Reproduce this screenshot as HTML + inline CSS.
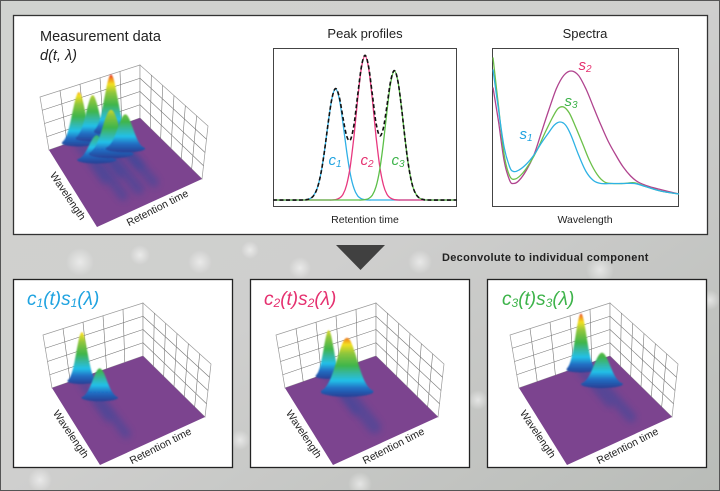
<!DOCTYPE html>
<html><head><meta charset="utf-8"><style>
html,body{margin:0;padding:0;width:720px;height:491px;overflow:hidden;background:#c9cbc8}
svg{display:block}
text{font-family:"Liberation Sans","DejaVu Sans",sans-serif}
</style></head><body>
<svg id="svg" width="720" height="491" viewBox="0 0 720 491" xmlns="http://www.w3.org/2000/svg">
<defs>
<linearGradient id="bgGrad" x1="0" y1="0" x2="1" y2="1">
<stop offset="0" stop-color="#d0d2cf"/><stop offset="0.5" stop-color="#cfcfce"/><stop offset="1" stop-color="#b9bcb8"/>
</linearGradient>
<radialGradient id="bokeh"><stop offset="0" stop-color="#ffffff" stop-opacity="0.55"/><stop offset="1" stop-color="#ffffff" stop-opacity="0"/></radialGradient>
<filter id="blur" x="-50%" y="-50%" width="200%" height="200%"><feGaussianBlur stdDeviation="3.5"/></filter>
<filter id="blur2" x="-50%" y="-50%" width="200%" height="200%"><feGaussianBlur stdDeviation="0.8"/></filter>
</defs>
<rect x="0" y="0" width="720" height="491" fill="url(#bgGrad)"/>
<g id="bokehs">
<circle cx="80" cy="262" r="14" fill="url(#bokeh)"/><circle cx="140" cy="255" r="10" fill="url(#bokeh)"/>
<circle cx="200" cy="262" r="12" fill="url(#bokeh)"/><circle cx="250" cy="250" r="9" fill="url(#bokeh)"/>
<circle cx="300" cy="268" r="11" fill="url(#bokeh)"/><circle cx="420" cy="262" r="12" fill="url(#bokeh)"/>
<circle cx="600" cy="270" r="14" fill="url(#bokeh)"/><circle cx="40" cy="480" r="12" fill="url(#bokeh)"/>
<circle cx="240" cy="440" r="10" fill="url(#bokeh)"/><circle cx="478" cy="400" r="10" fill="url(#bokeh)"/>
<circle cx="710" cy="300" r="10" fill="url(#bokeh)"/><circle cx="360" cy="484" r="12" fill="url(#bokeh)"/>
</g>
<rect x="0.5" y="0.5" width="719" height="490" fill="none" stroke="#555" stroke-width="1"/>

<rect x="13.5" y="15.5" width="694" height="219" fill="#fff" stroke="#333" stroke-width="1.3"/>
<text x="40" y="41" font-size="14.5" fill="#222">Measurement data</text>
<text x="40" y="60" font-size="14.5" font-style="italic" fill="#222">d(t, λ)</text>

<text x="365" y="38" font-size="13" text-anchor="middle" fill="#222">Peak profiles</text>
<rect x="273.5" y="48.5" width="183" height="158" fill="#fff" stroke="#444" stroke-width="1"/>
<text x="365" y="223" font-size="10.5" text-anchor="middle" fill="#222">Retention time</text>
<g id="peakChart"></g>

<text x="585" y="38" font-size="13" text-anchor="middle" fill="#222">Spectra</text>
<rect x="492.5" y="48.5" width="186" height="158" fill="#fff" stroke="#444" stroke-width="1"/>
<text x="585" y="223" font-size="10.5" text-anchor="middle" fill="#222">Wavelength</text>
<g id="specChart"></g>

<polygon points="336,245 385,245 360.5,270" fill="#404040"/>
<text x="442" y="261" font-size="11" font-weight="bold" fill="#222" letter-spacing="0.3">Deconvolute to individual component</text>

<rect x="13.5" y="279.5" width="219" height="188" fill="#fff" stroke="#222" stroke-width="1.3"/>
<rect x="250.5" y="279.5" width="219" height="188" fill="#fff" stroke="#222" stroke-width="1.3"/>
<rect x="487.5" y="279.5" width="219" height="188" fill="#fff" stroke="#222" stroke-width="1.3"/>
<text x="27" y="305" font-size="19" font-style="italic" fill="#1fa3e0">c<tspan font-size="12" dy="2">1</tspan><tspan dy="-2">(t)s</tspan><tspan font-size="12" dy="2">1</tspan><tspan dy="-2">(λ)</tspan></text>
<text x="264" y="305" font-size="19" font-style="italic" fill="#e5306f">c<tspan font-size="12" dy="2">2</tspan><tspan dy="-2">(t)s</tspan><tspan font-size="12" dy="2">2</tspan><tspan dy="-2">(λ)</tspan></text>
<text x="502" y="305" font-size="19" font-style="italic" fill="#3db34a">c<tspan font-size="12" dy="2">3</tspan><tspan dy="-2">(t)s</tspan><tspan font-size="12" dy="2">3</tspan><tspan dy="-2">(λ)</tspan></text>
<g id="surfaces"></g>
</svg>
<script>
// ---- Peak profiles data (retention time 0..100, relative intensity 0..1)
const peakT = [0,16,18,20,22,24,26,28,30,32,34,36,38,40,42,44,46,48,50,52,54,56,58,60,62,64,66,68,70,72,74,76,78,80,82,84,100];
const c1Vals = [0,0,.002,.009,.028,.077,.174,.328,.515,.676,.74,.676,.515,.328,.174,.077,.028,.009,.002,0,0,0,0,0,0,0,0,0,0,0,0,0,0,0,0,0,0];
const c2Vals = [0,0,0,0,0,0,0,0,0,0,.003,.012,.036,.10,.226,.425,.668,.876,.96,.876,.668,.425,.226,.10,.036,.012,.003,0,0,0,0,0,0,0,0,0,0];
const c3Vals = [0,0,0,0,0,0,0,0,0,0,0,0,0,0,0,0,0,0,.003,.010,.033,.089,.202,.381,.599,.785,.86,.785,.599,.381,.202,.089,.033,.010,.003,0,0];
// ---- Spectra data (wavelength 0..100, relative absorbance)
const s1W = [0,3,6,9,11,14,18,22,26,30,33,36,39,42,46,50,54,58,64,70,76,82,90,100];
const s1Vals = [.87,.6,.35,.22,.19,.2,.24,.3,.38,.45,.5,.52,.5,.43,.3,.19,.13,.11,.11,.11,.11,.09,.06,.04];
const s2W = [0,3,6,9,11,14,18,22,26,30,34,38,42,46,50,54,58,62,66,70,74,78,84,90,100];
const s2Vals = [.75,.52,.26,.13,.11,.13,.2,.3,.45,.6,.74,.83,.86,.83,.74,.62,.5,.39,.3,.22,.16,.12,.09,.07,.04];
const s3W = [0,3,6,9,12,16,20,24,28,32,35,38,41,44,48,52,56,60,64,70,76,82,90,100];
const s3Vals = [.95,.62,.3,.16,.14,.18,.25,.34,.45,.55,.61,.62,.58,.5,.38,.26,.17,.12,.11,.11,.115,.09,.06,.04];
// ---- 3D surface peak data: t (retention 0..1), w (wavelength 0..1), height (px), width
const measT = [0.3,0.45,0.65,0.35,0.5,0.65];
const measW = [0.05,0.05,0.05,0.3,0.3,0.3];
const measH = [52,44,58,25,45,35];
const measS = [6.5,6.5,6.5,7.5,8.5,7.5];
const comp1T = [0.3,0.35], comp1W = [0.05,0.3], comp1H = [50,30], comp1S = [5.5,7];
const comp2T = [0.45,0.5], comp2W = [0.05,0.3], comp2H = [47,55], comp2S = [5,10];
const comp3T = [0.65,0.72], comp3W = [0.05,0.3], comp3H = [57,32], comp3S = [5.5,8];

const NS = 'http://www.w3.org/2000/svg';
function mk(tag, attrs, parent){const e=document.createElementNS(NS,tag);for(const k in attrs)e.setAttribute(k,attrs[k]);parent.appendChild(e);return e;}
function smooth(pts){let d='M'+pts[0][0].toFixed(1)+','+pts[0][1].toFixed(1);
 for(let i=0;i<pts.length-1;i++){const p0=pts[Math.max(i-1,0)],p1=pts[i],p2=pts[i+1],p3=pts[Math.min(i+2,pts.length-1)];
 const c1x=p1[0]+(p2[0]-p0[0])/6,c1y=p1[1]+(p2[1]-p0[1])/6,c2x=p2[0]-(p3[0]-p1[0])/6,c2y=p2[1]-(p3[1]-p1[1])/6;
 d+=' C'+c1x.toFixed(1)+','+c1y.toFixed(1)+' '+c2x.toFixed(1)+','+c2y.toFixed(1)+' '+p2[0].toFixed(1)+','+p2[1].toFixed(1);}return d;}

// Peak profiles chart
const pk=document.getElementById('peakChart');
const px=t=>273+t/100*184, py=v=>200-v*150;
const pkSeries=[[c1Vals,'#2fb0e6','curve-c1'],[c2Vals,'#e8387f','curve-c2'],[c3Vals,'#5cbf48','curve-c3']];
pkSeries.forEach(s=>{
 const p=mk('path',{d:smooth(peakT.map((t,i)=>[px(t),py(s[0][i])])),fill:'none',stroke:s[1],'stroke-width':1.3},pk);
 
 
});
const sumP=mk('path',{d:smooth(peakT.map((t,i)=>[px(t),py(c1Vals[i]+c2Vals[i]+c3Vals[i])])),fill:'none',stroke:'#111','stroke-width':1.6,'stroke-dasharray':'4,2.5'},pk);


const pkLabels=[['c','1',335,'#1fa3e0'],['c','2',367,'#e5306f'],['c','3',398,'#3db34a']];
pkLabels.forEach((l,i)=>{const t=mk('text',{x:l[2],y:165,'font-size':15,'font-style':'italic',fill:l[3],'text-anchor':'middle'},pk);
 t.textContent=l[0];const s=mk('tspan',{'font-size':10,dy:2},t);s.textContent=l[1];
 
 });

// Spectra chart
const sp=document.getElementById('specChart');
const sx=w=>493+w/100*186, sy=v=>200-v*150;
const spSeries=[[s2W,s2Vals,'#b0438e','curve-s2'],[s3W,s3Vals,'#6cc04a','curve-s3'],[s1W,s1Vals,'#2eb2e4','curve-s1']];
spSeries.forEach(s=>{
 const p=mk('path',{d:smooth(s[0].map((w,i)=>[sx(w),sy(s[1][i])])),fill:'none',stroke:s[2],'stroke-width':1.3},sp);
 
 
});
const spLabels=[['s','2',585,70,'#e5306f'],['s','3',571,106,'#3db34a'],['s','1',526,139,'#1fa3e0']];
spLabels.forEach(l=>{const t=mk('text',{x:l[2],y:l[3],'font-size':15,'font-style':'italic',fill:l[4],'text-anchor':'middle'},sp);
 t.textContent=l[0];const s=mk('tspan',{'font-size':10,dy:2},t);s.textContent=l[1];
 
 });

// 3D surfaces
const surf=document.getElementById('surfaces');
const defs=document.querySelector('defs');
let gid=0;
function surface(name,ox,oy,Tarr,Warr,Harr,Sarr){
 const g=mk('g',{},surf);
 
 
 const L=[52+ox,388+oy],F=[100+ox,465+oy],R=[205+ox,417+oy],B=[143+ox,356+oy];
 const Hw=53, Hmax=58;
 const P=(t,w)=>[L[0]*(1-t)*(1-w)+F[0]*(1-t)*w+R[0]*t*w+B[0]*t*(1-w), L[1]*(1-t)*(1-w)+F[1]*(1-t)*w+R[1]*t*w+B[1]*t*(1-w)];
 const wallL=mk('polygon',{points:[L,B,[B[0],B[1]-Hw],[L[0]-9,L[1]-Hw]].map(p=>p.join(',')).join(' '),fill:'#fff',stroke:'#999','stroke-width':0.7},g);
 
 
 const wallR=mk('polygon',{points:[B,R,[R[0]+6,R[1]-Hw],[B[0],B[1]-Hw]].map(p=>p.join(',')).join(' '),fill:'#fff',stroke:'#999','stroke-width':0.7},g);
 
 
 const lerp=(a,b,f)=>[a[0]+(b[0]-a[0])*f,a[1]+(b[1]-a[1])*f];
 const Lt=[L[0]-9,L[1]-Hw],Bt=[B[0],B[1]-Hw],Rt=[R[0]+6,R[1]-Hw];
 for(let i=1;i<5;i++){const a=lerp(L,B,i/5),b=lerp(Lt,Bt,i/5);mk('line',{x1:a[0],y1:a[1],x2:b[0],y2:b[1],stroke:'#777','stroke-width':0.6},g);}
 for(let i=1;i<4;i++){const a=lerp(L,Lt,i/4),b=lerp(B,Bt,i/4),c=lerp(R,Rt,i/4);
  mk('line',{x1:a[0],y1:a[1],x2:b[0],y2:b[1],stroke:'#777','stroke-width':0.6},g);
  mk('line',{x1:b[0],y1:b[1],x2:c[0],y2:c[1],stroke:'#777','stroke-width':0.6},g);}
 for(let i=1;i<6;i++){const a=lerp(B,R,i/6),b=lerp(Bt,Rt,i/6);mk('line',{x1:a[0],y1:a[1],x2:b[0],y2:b[1],stroke:'#777','stroke-width':0.6},g);}
 const floor=mk('polygon',{points:[L,F,R,B].map(p=>p.join(',')).join(' '),fill:'#7c448f'},g);
 
 
 Tarr.forEach((t,i)=>{const a=P(t,Warr[i]),b=P(t,Math.min(Warr[i]+0.5,0.9));
  const s=mk('line',{x1:a[0],y1:a[1],x2:b[0],y2:b[1],stroke:'#2d4a9e','stroke-width':Sarr[i]*1.3,'stroke-linecap':'round',opacity:0.45,filter:'url(#blur)'},g);
  
  });
 const order=Tarr.map((t,i)=>i).sort((a,b)=>Warr[a]-Warr[b]);
 order.forEach(i=>{
  const base=P(Tarr[i],Warr[i]),s=Sarr[i],h=Harr[i];
  const id='pg'+(gid++);
  const lg=mk('linearGradient',{id:id,gradientUnits:'userSpaceOnUse',x1:0,y1:base[1]+s*0.4,x2:0,y2:base[1]-Hmax},defs);
  [[0,'#283f95'],[0.14,'#1f6fc4'],[0.26,'#23c0e8'],[0.38,'#35b7a0'],[0.5,'#3fb54a'],[0.7,'#8fc63c'],[0.84,'#f3e020'],[0.93,'#f28a1e'],[1,'#e6201c']].forEach(st=>mk('stop',{offset:st[0],'stop-color':st[1]},lg));
  let d='';
  for(let k=0;k<=30;k++){const dx=-2.6*s+5.2*s*k/30;const y=base[1]-h*Math.exp(-dx*dx/(2*s*s));d+=(k?' L':'M')+(base[0]+dx).toFixed(1)+','+y.toFixed(1);}
  d+=' A'+(2.6*s)+','+(s*0.5)+' 0 0 1 '+(base[0]-2.6*s).toFixed(1)+','+base[1].toFixed(1)+' Z';
  const p=mk('path',{d:d,fill:'url(#'+id+')',filter:'url(#blur2)'},g);
  
  
 });
 const wl=mk('text',{x:F[0]-32,y:F[1]-29,'font-size':10.5,fill:'#222','text-anchor':'middle',transform:'rotate(56 '+(F[0]-32)+' '+(F[1]-29)+')'},g);
 wl.textContent='Wavelength';
 
 
 const rt=mk('text',{x:F[0]+62,y:F[1]-16,'font-size':10.5,fill:'#222','text-anchor':'middle',transform:'rotate(-27 '+(F[0]+62)+' '+(F[1]-16)+')'},g);
 rt.textContent='Retention time';
 
 
}
surface('measurement-surface',-3,-238,measT,measW,measH,measS);
surface('component1-surface',0,0,comp1T,comp1W,comp1H,comp1S);
surface('component2-surface',233,0,comp2T,comp2W,comp2H,comp2S);
surface('component3-surface',467,0,comp3T,comp3W,comp3H,comp3S);
</script>
</body></html>
